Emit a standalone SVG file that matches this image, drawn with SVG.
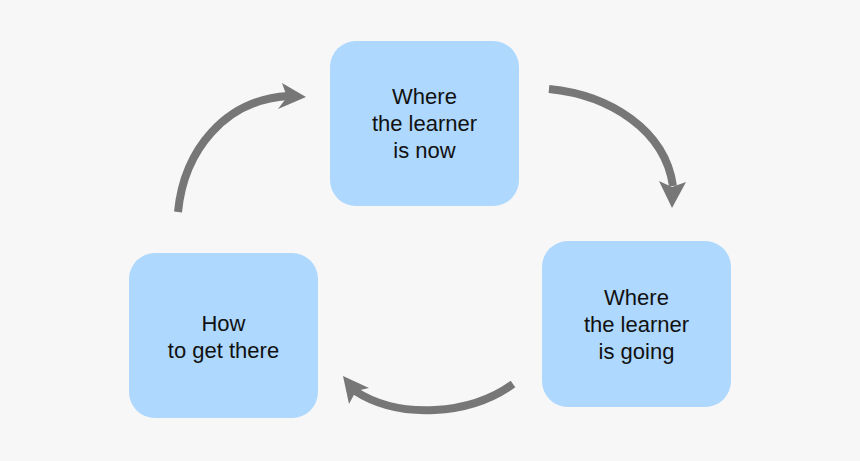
<svg xmlns="http://www.w3.org/2000/svg" width="860" height="461" viewBox="0 0 860 461">
<style>
.box{fill:#aed8fe}
.t{font-family:"Liberation Sans",Arial,sans-serif;font-size:22px;fill:#111;text-anchor:middle}
.arc{fill:none;stroke:#777;stroke-width:8}
.head{fill:#777}
</style>
<rect width="860" height="461" fill="#f7f7f7"/>
<g id="now">
<rect class="box" x="330" y="41" width="189" height="165" rx="26"/>
<text class="t" x="424.5" y="104">Where</text>
<text class="t" x="424.5" y="131">the learner</text>
<text class="t" x="424.5" y="158">is now</text>
</g>
<g id="going">
<rect class="box" x="542" y="241" width="189" height="166" rx="26"/>
<text class="t" x="636.5" y="305">Where</text>
<text class="t" x="636.5" y="332">the learner</text>
<text class="t" x="636.5" y="359">is going</text>
</g>
<g id="how">
<rect class="box" x="129" y="253" width="189" height="165" rx="26"/>
<text class="t" x="223.5" y="331">How</text>
<text class="t" x="223.5" y="358">to get there</text>
</g>
<g id="connectors">
<path class="arc" d="M178,212 C184,150 225,100 288,96"/>
<polygon class="head" points="306,97 282,83 287,97 278,109"/>
<path class="arc" d="M549,89 C610,95 665,130 673,186"/>
<polygon class="head" points="672,208 659,181 672,187 686,182"/>
<path class="arc" d="M513,384 C470,415 400,420 355,391"/>
<polygon class="head" points="343,376 369,388 356,391 349,404"/>
</g>
</svg>
